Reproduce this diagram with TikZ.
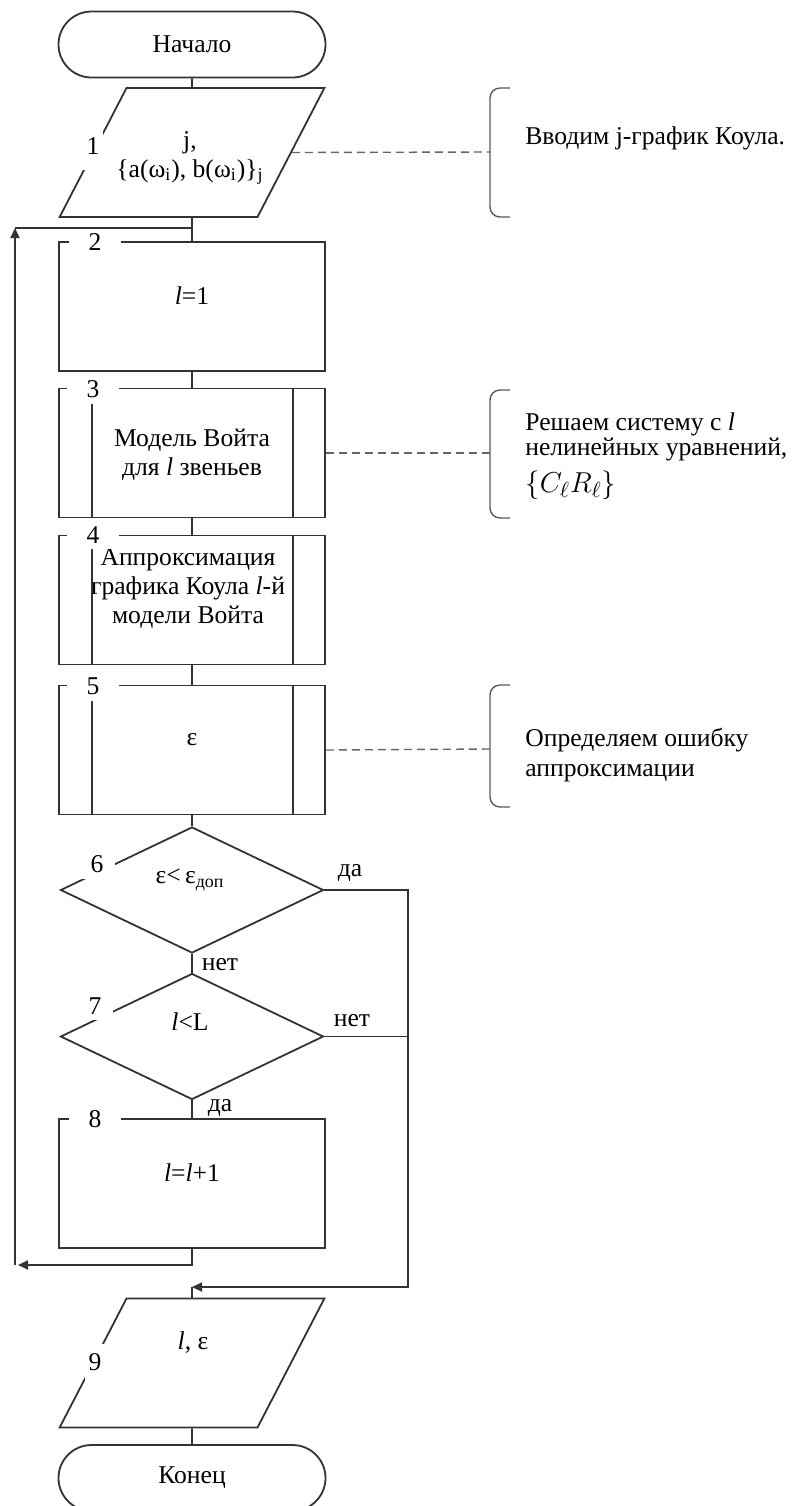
\documentclass[tikz,border=0pt]{standalone}
\usepackage{fontspec}
\setmainfont{Liberation Serif}
\usetikzlibrary{shapes.geometric,shapes.misc,arrows.meta,positioning}

\tikzset{
  every node/.style={font=\fontsize{12.8}{14.5}\selectfont},
  line/.style={draw=black!80, line width=0.9pt},
  term/.style={line, rounded rectangle, minimum width=133.5pt, minimum height=33pt, inner sep=0pt},
  io/.style={line, trapezium, trapezium left angle=62.6, trapezium right angle=117.4,
    inner xsep=32.75pt, inner ysep=32.25pt},
  block/.style={line, rectangle, minimum width=133pt, minimum height=64.5pt, inner sep=0pt},
  proc/.style={block, path picture={
    \draw[line] ([xshift=16.5pt]path picture bounding box.north west) -- ([xshift=16.5pt]path picture bounding box.south west);
    \draw[line] ([xshift=-16pt]path picture bounding box.north east) -- ([xshift=-16pt]path picture bounding box.south east);}},
  decision/.style={line, diamond, minimum width=131.5pt, minimum height=63pt, inner sep=0pt},
  num/.style={fill=white, inner xsep=10pt, inner ysep=3pt},
  txt/.style={align=center, inner sep=0pt},
  note/.style={align=left, inner sep=0pt},
  hint/.style={draw=black!60, line width=0.7pt, dash pattern=on 4pt off 2.5pt},
  brace/.style={draw=black!65, line width=0.7pt, rounded corners=5pt},
  arr/.style={line, -{Triangle[length=5pt,width=4.5pt]}},
}

\begin{document}
\begin{tikzpicture}[x=0.5pt,y=-0.5pt]
\useasboundingbox (0,0) rectangle (793,1506);

% main column
\node[term] (start) at (192,44.5) {Начало};
\node[io] (io1) at (192,152.5) {};
\node[txt] (t1) at (190,158) {j,\\\{a(ω\textsubscript{i}), b(ω\textsubscript{i})\}\textsubscript{j}};
\node[block] (b2) at (192,306.5) {};
\node[txt] (t2) at (192,296) {\textit{l}=1};
\node[proc] (b3) at (192,453) {};
\node[txt] (t3) at (192,455) {Модель Войта\\для \textit{l} звеньев};
\node[proc] (b4) at (192,600) {};
\node[txt] (t4) at (188,589) {Аппроксимация\\графика Коула \textit{l}-й\\модели Войта};
\node[proc] (b5) at (192,750) {};
\node[txt] (t5) at (192,740) {ε};
\node[decision] (d6) at (192,890) {};
\node[txt] (t6) at (190,880) {ε<\,ε\textsubscript{доп}};
\node[decision] (d7) at (192,1036.5) {};
\node[txt] (t7) at (190,1022) {\textit{l}<L};
\node[block] (b8) at (192,1183.5) {};
\node[txt] (t8) at (192,1173) {\textit{l}=\textit{l}+1};
\node[io] (io9) at (192,1363) {};
\node[txt] (t9) at (193,1343) {\textit{l}, ε};
\node[term] (stop) at (192,1478) {Конец};

% block numbers
\node[num, inner xsep=2pt, inner ysep=8pt] (n1) at (93,146) {1};
\node[num] (n2) at (95,242) {2};
\node[num] (n3) at (93,389) {3};
\node[num] (n4) at (93,535) {4};
\node[num] (n5) at (93,686) {5};
\node[num, inner xsep=6pt] (n6) at (97,864) {6};
\node[num, inner xsep=6pt] (n7) at (95,1006) {7};
\node[num] (n8) at (95,1119) {8};
\node[num, inner xsep=2pt, inner ysep=4.5pt] (n9) at (95,1362) {9};

% connectors
\draw[line] (start) -- (io1);
\draw[line] (io1) -- (b2);
\draw[line] (b2) -- (b3);
\draw[line] (b3) -- (b4);
\draw[line] (b4) -- (b5);
\draw[line] (b5) -- (d6);
\draw[line] (d6) -- (d7);
\draw[line] (d7) -- (b8);
\draw[line] (io9) -- (stop);

% loop back
\coordinate (lpa) at (192,1265);
\coordinate (lpb) at (15,1265);
\coordinate (lpc) at (15,228);
\coordinate (lpd) at (192,228);
\draw[arr] (b8) -- (lpa) -- ([xshift=1.5pt]lpb);
\draw[arr] (lpb) -- (lpc);
\draw[line] (lpc) -- (lpd);

% exit branch
\coordinate (mgb) at (408,1287);
\coordinate (mgc) at (192,1287);
\draw[arr] (d6.east) -| (mgb) -- (mgc);
\draw[line] (d7.east) -- (d7.east -| mgb);
\draw[line] (mgc) -- (io9);

% branch labels
\node (yes6) at (350,873) {да};
\node (no6) at (220,965) {нет};
\node (no7) at (352,1021) {нет};
\node (yes7) at (220,1108) {да};

% comments
\coordinate (br1) at (490,152);
\coordinate (br3) at (490,453);
\coordinate (br5) at (490,749);
\draw[brace] (510,88) -- (490,88) -- (490,217) -- (510,217);
\draw[brace] (510,390) -- (490,390) -- (490,518) -- (510,518);
\draw[brace] (510,685) -- (490,685) -- (490,807) -- (510,807);
\draw[hint] (io1.east) -- (br1);
\draw[hint] (b3.east) -- (br3);
\draw[hint] (b5.east) -- (br5);
\node[note, anchor=west] (note1) at (525,138) {Вводим j-график Коула.};
\node[note, anchor=north west, font=\fontsize{12.8}{11.5}\selectfont] (note3) at (525,412)
  {Решаем систему с \textit{l}\\нелинейных уравнений,\\[4pt]{\fontsize{15}{15}\selectfont$\bigl\{C_\ell R_\ell\bigr\}$}};
\node[note, anchor=north west, font=\fontsize{12.8}{15}\selectfont] (note5) at (525,728)
  {Определяем ошибку\\аппроксимации};
\end{tikzpicture}
\end{document}
